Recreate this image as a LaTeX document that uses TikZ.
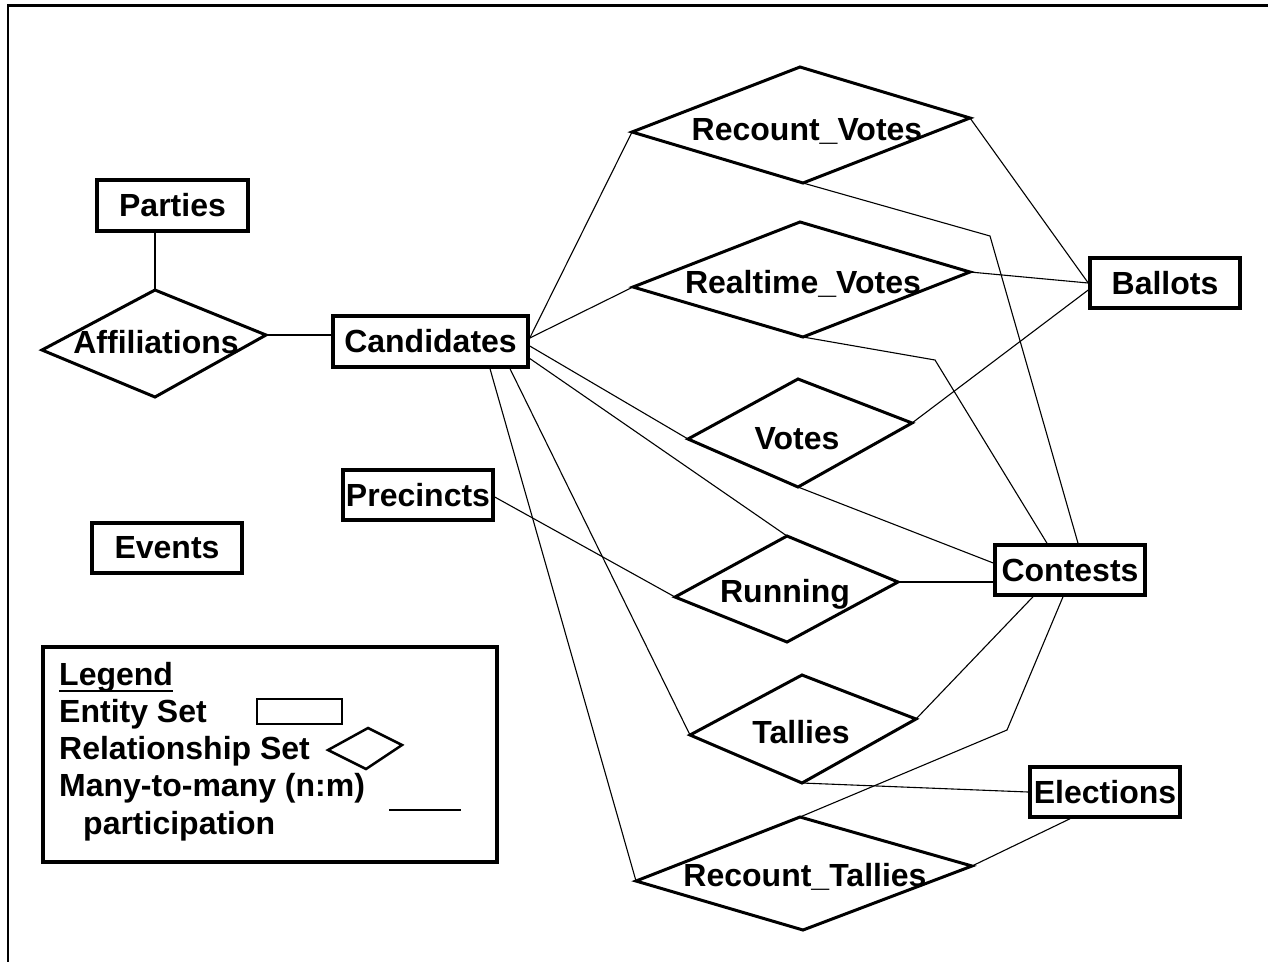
\documentclass[tikz,border=0pt]{standalone}
\usepackage{fontspec}
\setmainfont{Liberation Sans}
\usetikzlibrary{calc}
\newcommand{\erfont}{\fontsize{32}{38}\selectfont\bfseries}
\tikzset{
  ent/.style={draw, line width=3.5pt, inner sep=0pt, minimum width=150pt, minimum height=50pt, font=\erfont},
  reldia/.style={draw, line width=3pt, line join=miter},
  lbl/.style={inner sep=0pt, font=\erfont},
  conn/.style={line width=1.1pt},
}
\newcommand{\erdia}[7]{%
  \coordinate (#1-W) at (#2);
  \coordinate (#1-N) at (#3);
  \coordinate (#1-E) at (#4);
  \coordinate (#1-S) at (#5);
  \draw[reldia] (#1-W) -- (#1-N) -- (#1-E) -- (#1-S) -- cycle;
  \node[lbl, anchor=base] (#1) at (#6) {#7};
}
\begin{document}
\begin{tikzpicture}[x=1pt,y=-1pt]
\useasboundingbox (0,0) rectangle (1268,962);
% frame
\draw[line width=3pt] (7,5) -- (1268,5);
\draw[line width=2pt] (8,5) -- (8,962);

% entity sets
\node[ent, minimum width=151pt, minimum height=51pt] (parties) at (172.5,205.5) {Parties};
\node[ent, minimum width=195pt, minimum height=51pt] (cand) at (430.5,341.5) {Candidates};
\node[ent] (ballots) at (1165,283) {Ballots};
\node[ent] (contests) at (1070,570) {Contests};
\node[ent] (elections) at (1105,792) {Elections};
\node[ent] (precincts) at (418,495) {Precincts};
\node[ent] (events) at (167,548) {Events};

% relationship sets
\erdia{aff}{42,350}{155,290}{266,335}{155,397}{156,353}{Affiliations}
\erdia{rv}{632,132}{800,67}{970,118}{803,183}{807,140}{Recount\_Votes}
\erdia{rt}{633,287}{800,222}{970,272}{803,337}{803,293}{Realtime\_Votes}
\erdia{vo}{688,439}{798,379}{912,423}{798,487}{797,449}{Votes}
\erdia{ru}{675,597}{787,536}{898,582}{787,642}{785,602}{Running}
\erdia{ta}{690,735}{802,675}{916,719}{802,783}{801,743}{Tallies}
\erdia{rtal}{636,881}{800,817}{972,866}{803,930}{805,886}{Recount\_Tallies}

% bend points
\coordinate (b1) at (990,236);
\coordinate (b2) at (935,360);
\coordinate (b3) at (1007,730);

% connectors
\draw[conn] (aff-N |- parties.south) -- (aff-N);
\draw[conn] (aff-E) -- (aff-E -| cand.west);
\draw[conn] ([yshift=3.5pt]cand.east) -- (rv-W);
\draw[conn] ([yshift=3.5pt]cand.east) -- (rt-W);
\draw[conn] ([yshift=-4.5pt]cand.east) -- (vo-W);
\draw[conn] ([yshift=-17pt]cand.east) -- (ru-N);
\draw[conn] ([xshift=59.5pt]cand.south) -- (rtal-W);
\draw[conn] ([xshift=79.5pt]cand.south) -- (ta-W);
\draw[conn] ([yshift=-2pt]precincts.east) -- (ru-W);
\draw[conn] (rv-E) -- (ballots.west);
\draw[conn] (rt-E) -- (ballots.west);
\draw[conn] ([yshift=-7pt]ballots.west) -- (vo-E);
\draw[conn] (rv-S) -- (b1) -- ([xshift=8pt]contests.north);
\draw[conn] (rt-S) -- (b2) -- ([xshift=-23pt]contests.north);
\draw[conn] (vo-S) -- ([yshift=7pt]contests.west);
\draw[conn] (ru-E) -- (ru-E -| contests.west);
\draw[conn] (ta-E) -- ([xshift=-37pt]contests.south);
\draw[conn] ([xshift=-7pt]contests.south) -- (b3) -- (rtal-N);
\draw[conn] (ta-S) -- (elections.west);
\draw[conn] (rtal-E) -- ([xshift=-35pt]elections.south);

% legend
\node[draw, line width=4pt, minimum width=454pt, minimum height=215pt, inner sep=0pt] (legend) at (270,754.5) {};
\node[lbl, anchor=base west] (lgh) at (59,685) {Legend};
\draw[line width=2pt] ([yshift=-6pt]lgh.base west) -- ([yshift=-6pt]lgh.base east);
\node[lbl, anchor=base west] (lges) at (59,722) {Entity Set};
\node[draw, line width=2.5pt, minimum width=85pt, minimum height=25pt, inner sep=0pt] (lgbox) at (299.5,711.5) {};
\node[lbl, anchor=base west] (lgrs) at (59,759) {Relationship Set};
\coordinate (ld-W) at (328,750);
\coordinate (ld-N) at (368,728);
\coordinate (ld-E) at (402,745);
\coordinate (ld-S) at (366,769);
\draw[line width=2.5pt] (ld-W) -- (ld-N) -- (ld-E) -- (ld-S) -- cycle;
\node[lbl, anchor=base west] (lgmm) at (59,796) {Many-to-many (n:m)};
\coordinate (ll-a) at (389,810);
\coordinate (ll-b) at (461,810);
\draw[conn] (ll-a) -- (ll-b);
\node[lbl, anchor=base west] (lgpa) at (83,834) {participation};
\end{tikzpicture}
\end{document}
